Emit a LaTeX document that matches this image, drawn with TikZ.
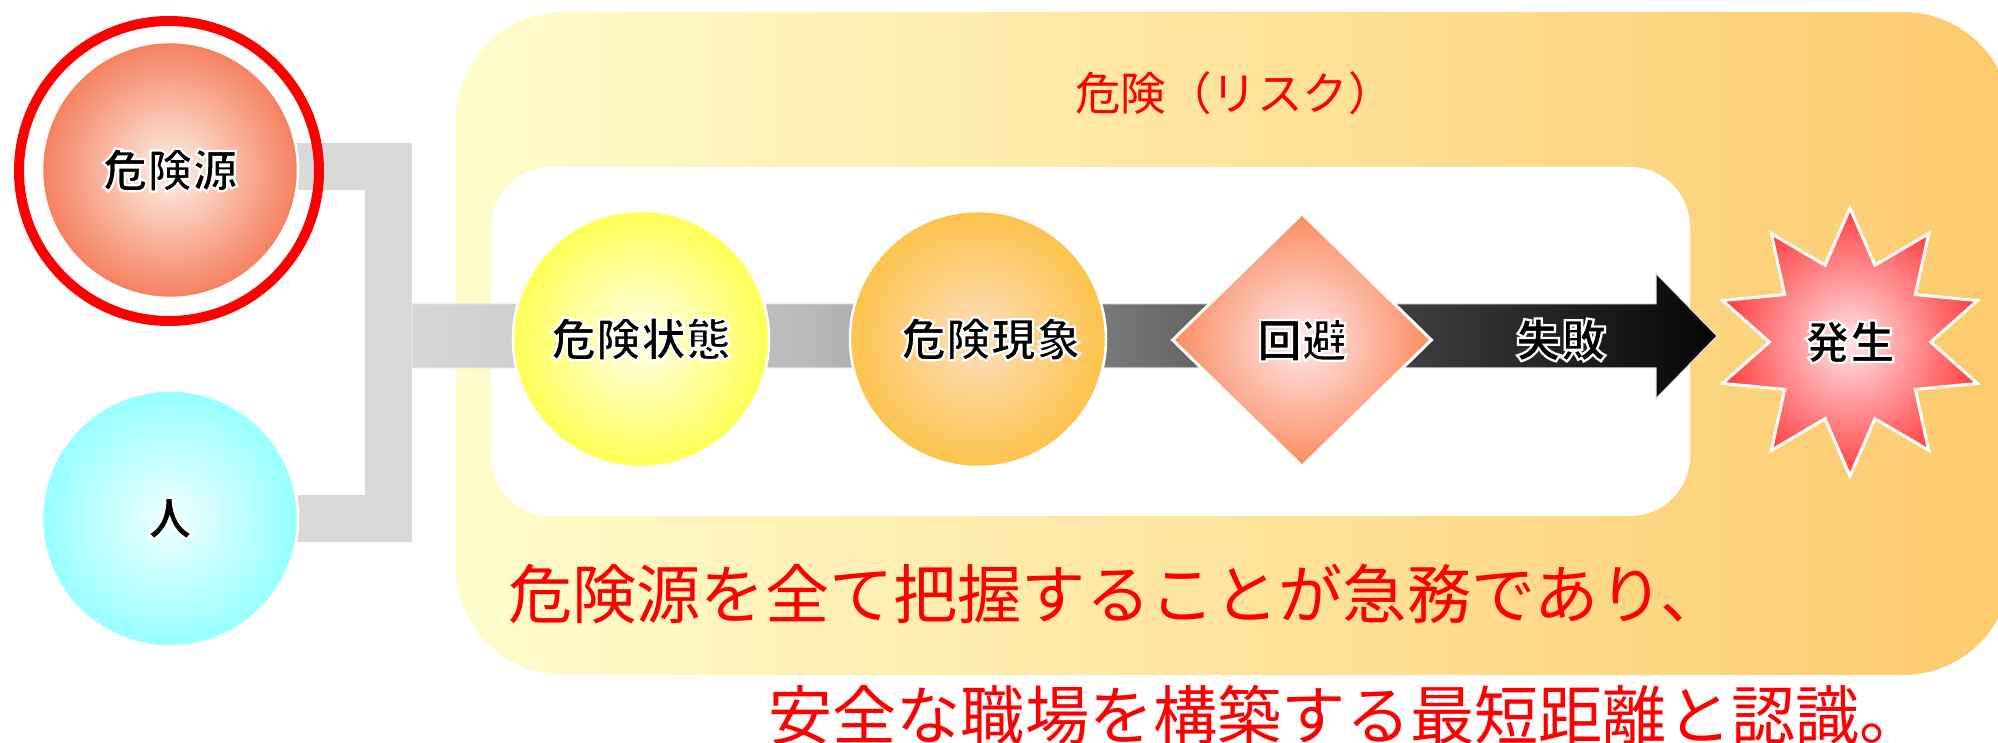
\documentclass[tikz,border=0pt]{standalone}
\usepackage{fontspec}
\setmainfont{Noto Sans CJK JP}
\IfFontExistsTF{Noto Sans CJK JP Black}
  {\newfontfamily\lblfont{Noto Sans CJK JP Black}[FakeBold=5]}
  {\IfFontExistsTF{Noto Sans CJK JP Bold}
     {\newfontfamily\lblfont{Noto Sans CJK JP Bold}[FakeBold=4.2]}
     {\newfontfamily\lblfont{Noto Sans CJK JP}[FakeBold=3.5]}}
\usetikzlibrary{shapes.geometric,calc}
\definecolor{ringred}{RGB}{255,0,0}
\definecolor{txtred}{RGB}{255,0,0}
\definecolor{boxL}{RGB}{255,253,205}
\definecolor{boxR}{RGB}{253,202,108}
\definecolor{brk}{RGB}{217,217,217}
\definecolor{bandA}{RGB}{214,214,214}
\definecolor{bandB}{RGB}{186,186,186}
\definecolor{bandC}{RGB}{112,112,112}
\definecolor{bandD}{RGB}{45,45,45}
\definecolor{bandE}{RGB}{5,5,5}
\definecolor{bandLine}{RGB}{232,232,232}
\definecolor{hzIn}{RGB}{253,242,232}
\definecolor{hzOut}{RGB}{245,128,95}
\definecolor{huIn}{RGB}{240,255,255}
\definecolor{huOut}{RGB}{150,255,255}
\definecolor{stIn}{RGB}{255,255,235}
\definecolor{stOut}{RGB}{255,255,85}
\definecolor{phIn}{RGB}{252,222,190}
\definecolor{phOut}{RGB}{253,195,75}
\definecolor{avIn}{RGB}{255,232,236}
\definecolor{avOut}{RGB}{250,140,95}
\definecolor{ocIn}{RGB}{255,228,232}
\definecolor{ocOut}{RGB}{255,65,65}
\pgfdeclarehorizontalshading{bandshade}{100bp}{color(0bp)=(bandA); color(25bp)=(bandA); color(40bp)=(bandB); color(53bp)=(bandC); color(66.7bp)=(bandD); color(75bp)=(bandE); color(100bp)=(bandE)}
\pgfdeclarelayer{bg}
\pgfsetlayers{bg,main}
\newcommand\lbl{\lblfont\fontsize{45}{50}\selectfont}
% black glyphs whose emboldening stroke is painted white: a halo in one text
\newcommand\halo[1]{\leavevmode\hbox{\color{black}\special{pdf:code 1 G}#1}}
\tikzset{
  sRing/.style={circle, draw=ringred, line width=10pt, minimum size=300pt, inner sep=0pt},
  sBall/.style={circle, minimum size=256pt, inner sep=0pt, draw=white, line width=2.5pt, font=\lbl},
  sGem/.style={diamond, minimum width=260pt, minimum height=254pt, inner sep=0pt, draw=white, line width=3pt, font=\lbl},
  sBurst/.style={star, star points=10, star point ratio=1.66, minimum size=268pt, inner sep=0pt, draw=white, line width=3pt, font=\lbl},
  sOuter/.style={rectangle, rounded corners=108pt, minimum width=1555pt, minimum height=663pt, left color=boxL, right color=boxR},
  sInner/.style={rectangle, rounded corners=60pt, minimum width=1199pt, minimum height=349pt, fill=white},
  sBracket/.style={draw=brk, line width=47pt, line join=miter},
  sBand/.style={shade, shading=bandshade, draw=bandLine, line width=1pt},
  sMsg/.style={text=txtred, inner sep=0pt, font=\fontsize{64.2}{70}\selectfont},
  sTitle/.style={text=txtred, inner sep=0pt, font=\fontsize{45.5}{50}\selectfont},
  sPlain/.style={inner sep=0pt, font=\lbl}
}
\begin{document}
\begin{tikzpicture}[x=1pt,y=-1pt]
\useasboundingbox (0,0) rectangle (1998,743);
\clip (0,0) rectangle (1998,743);
% nodes
\node[sRing] (hzring) at (169,171) {};
\node[sBall, inner color=hzIn, outer color=hzOut] (hz) at (170,170) {\halo{危険源}};
\node[sBall, inner color=huIn, outer color=huOut] (hu) at (170,518.5) {\halo{人}};
\node[sBall, inner color=stIn, outer color=stOut] (st) at (641,339) {\halo{危険状態}};
\node[sBall, inner color=phIn, outer color=phOut] (ph) at (978,339) {\kern26pt\halo{危険現象}};
\node[sGem, inner color=avIn, outer color=avOut] (av) at (1302,340) {\halo{回避}};
\node[sPlain] (fail) at (1561,340) {\halo{失敗}};
\node[sBurst, inner color=ocIn, outer color=ocOut] (oc) at (1850,342) {\halo{発生}};
\node[sTitle, anchor=base west] (risk) at (1075,111) {危険（リスク）};
\node[sMsg, anchor=base west] (msg1) at (508,618) {危険源を全て把握することが急務であり、};
\node[sMsg, anchor=base west] (msg2) at (768,739) {安全な職場を構築する最短距離と認識。};
\begin{pgfonlayer}{bg}
  \node[sOuter] (riskbox) at (1233.5,343.5) {};
  \node[sInner] (flowbox) at (1090.5,341.5) {};
  \coordinate (bt) at (388.5,166.5);
  \coordinate (bb) at (388.5,518.5);
  \draw[sBracket] (bt -| hz.center) -- (bt) -- (bb) -- (bb -| hu.center);
  \coordinate (bj) at (412,336);
  \coordinate (tip) at (1717,336);
  \path[sBand] (bj) -- ++(0,-32) -- ($(tip)+(-61,-32)$) -- ($(tip)+(-61,-62.5)$) -- (tip)
     -- ($(tip)+(-61,62.5)$) -- ($(tip)+(-61,32)$) -- ($(bj)+(0,32)$) -- cycle;
\end{pgfonlayer}
\end{tikzpicture}
\end{document}
